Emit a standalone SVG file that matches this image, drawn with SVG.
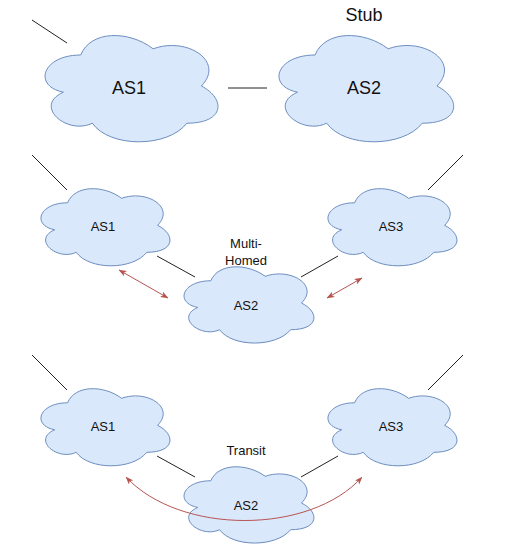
<svg xmlns="http://www.w3.org/2000/svg" xmlns:xlink="http://www.w3.org/1999/xlink" width="506" height="547" viewBox="0 0 506 547">
<style>
.cloud{fill:#dae8fc;stroke:#6c8ebf;stroke-width:1;vector-effect:non-scaling-stroke}
.lbl{font-family:"Liberation Sans",Arial,sans-serif;fill:#111;text-anchor:middle;dominant-baseline:central}
.big{font-size:18px}
.sm{font-size:13px}
.ln{stroke:#222;stroke-width:1;fill:none}
.red{stroke:#b85450;stroke-width:1;fill:none;marker-start:url(#ah);marker-end:url(#ah)}
</style>
<defs>
<path id="cloud" class="cloud" d="M0.25,0.25C0.05,0.25,0,0.5,0.16,0.55C0,0.66,0.18,0.9,0.31,0.8C0.4,1,0.7,1,0.8,0.8C1,0.8,1,0.6,0.875,0.5C1,0.3,0.8,0.1,0.625,0.2C0.5,0.05,0.3,0.05,0.25,0.25Z"/>
<marker id="ah" viewBox="0 0 8 6" refX="7.5" refY="3" markerWidth="8" markerHeight="6" markerUnits="userSpaceOnUse" orient="auto-start-reverse">
<path d="M0,0L8,3L0,6L2,3Z" fill="#b85450"/>
</marker>
</defs>
<g id="connectors">
<line class="ln" x1="32" y1="20" x2="67" y2="43"/>
<line class="ln" x1="228" y1="88" x2="267" y2="88"/>
<line class="ln" x1="32" y1="155" x2="67" y2="190"/>
<line class="ln" x1="463" y1="155" x2="428" y2="190"/>
<line class="ln" x1="157" y1="256" x2="195" y2="277"/>
<line class="ln" x1="338" y1="256" x2="301" y2="277"/>
<line class="ln" x1="32" y1="355" x2="67" y2="390"/>
<line class="ln" x1="463" y1="355" x2="428" y2="390"/>
<line class="ln" x1="157" y1="456" x2="195" y2="477"/>
<line class="ln" x1="338" y1="456" x2="301" y2="477"/>
<path class="red" d="M119,270L168,298"/>
<path class="red" d="M327,298L362,278"/>
</g>
<g id="stub-as1"><use href="#cloud" transform="translate(32.5,24) scale(193,124)"/><text class="lbl big" x="129" y="88">AS1</text></g>
<g id="stub-as2"><use href="#cloud" transform="translate(266.3,24) scale(195,124)"/><text class="lbl big" x="364" y="88">AS2</text></g>
<text id="stub-label" class="lbl big" x="364" y="15">Stub</text>
<g id="mh-as1"><use href="#cloud" transform="translate(31.6,180.3) scale(144,90)"/><text class="lbl sm" x="103" y="226">AS1</text></g>
<g id="mh-as3"><use href="#cloud" transform="translate(318.6,180.3) scale(144,90)"/><text class="lbl sm" x="391" y="226">AS3</text></g>
<g id="mh-as2"><use href="#cloud" transform="translate(174.6,258.5) scale(145,89)"/><text class="lbl sm" x="246" y="305">AS2</text></g>
<text id="mh-label" class="lbl sm" x="246" y="243">Multi-</text>
<text class="lbl sm" x="246" y="260">Homed</text>
<g id="tr-as1"><use href="#cloud" transform="translate(31.6,380.3) scale(144,90)"/><text class="lbl sm" x="103" y="426">AS1</text></g>
<g id="tr-as3"><use href="#cloud" transform="translate(318.6,380.3) scale(144,90)"/><text class="lbl sm" x="391" y="426">AS3</text></g>
<g id="tr-as2"><use href="#cloud" transform="translate(174.6,458.5) scale(145,89)"/><text class="lbl sm" x="246" y="505">AS2</text></g>
<text id="tr-label" class="lbl sm" x="246" y="450">Transit</text>
<g id="transit-path"><path class="red" d="M126,477C180,535,310,535,362,477"/></g>
</svg>
